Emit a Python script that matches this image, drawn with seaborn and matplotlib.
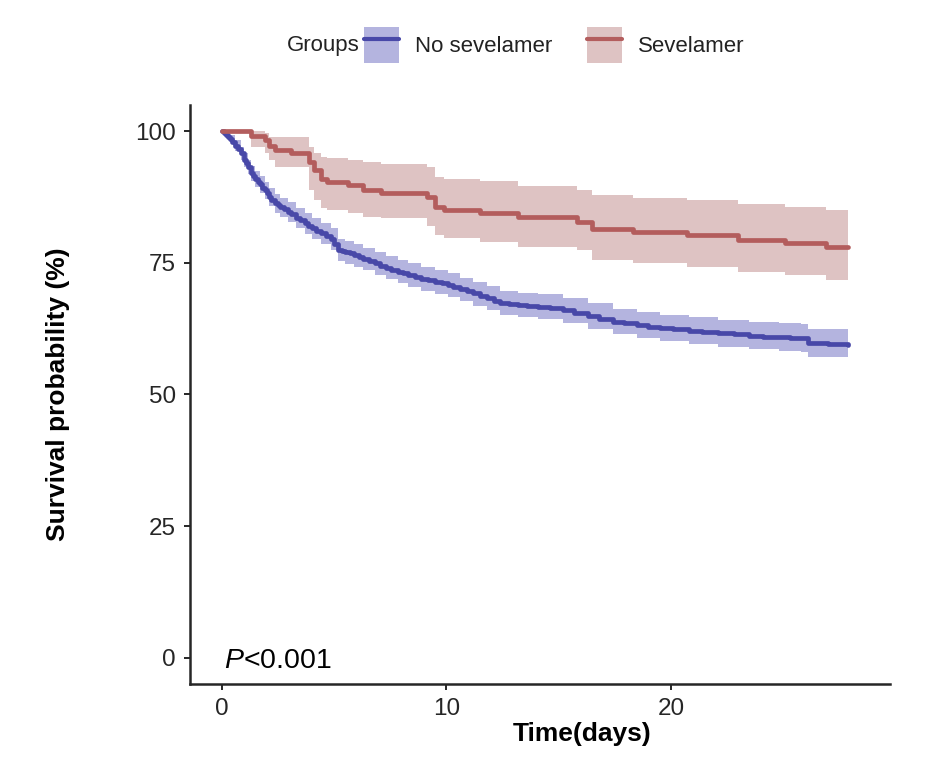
import matplotlib
matplotlib.use("Agg")
import matplotlib.pyplot as plt
import seaborn as sns
import pandas as pd
from matplotlib.patches import Patch
from matplotlib.lines import Line2D

# ---------------- data ----------------
groups = ["No sevelamer", "Sevelamer"]

# Kaplan-Meier step curve, No sevelamer
no_sev_time = [0, 0.1, 0.2, 0.28, 0.36, 0.47, 0.58, 0.72, 0.87, 1.0, 1.08, 1.17, 1.3, 1.38,
               1.47, 1.6, 1.7, 1.8, 1.91, 2.0, 2.1, 2.2, 2.36, 2.48, 2.6, 2.78, 2.95, 3.1,
               3.3, 3.5, 3.69, 3.85, 4.0, 4.2, 4.43, 4.65, 4.87, 5.0, 5.17, 5.35, 5.5, 5.7,
               5.9, 6.1, 6.3, 6.55, 6.8, 7.05, 7.3, 7.55, 7.84, 8.05, 8.3, 8.6, 8.87, 9.2,
               9.5, 9.8, 10.06, 10.3, 10.6, 10.9, 11.2, 11.5, 11.8, 12.1, 12.4, 12.8, 13.2,
               13.6, 14.1, 14.6, 15.2, 15.7, 16.3, 16.8, 17.4, 17.9, 18.5, 19.0, 19.5, 20.1,
               20.8, 21.4, 22.1, 22.8, 23.5, 24.1, 24.8, 25.3, 25.8, 26.1, 27.0, 27.9]
no_sev_surv = [100, 99.6, 99.3, 99.0, 98.6, 98.0, 97.3, 96.6, 95.8, 94.6, 93.9, 93.2, 92.0, 91.5,
               91.0, 90.4, 89.9, 89.3, 88.8, 88.2, 87.6, 87.0, 86.3, 86.0, 85.6, 85.2, 84.7, 84.2,
               83.6, 83.1, 82.5, 82.0, 81.6, 81.1, 80.6, 80.1, 79.6, 78.5, 77.4, 77.2, 77.0, 76.8,
               76.5, 76.2, 75.8, 75.4, 74.9, 74.5, 74.1, 73.7, 73.3, 73.0, 72.7, 72.4, 72.0, 71.7,
               71.4, 71.1, 70.8, 70.4, 70.0, 69.6, 69.2, 68.8, 68.3, 67.8, 67.4, 67.2, 67.0,
               66.9, 66.7, 66.4, 66.0, 65.5, 64.9, 64.4, 63.8, 63.5, 63.2, 62.9, 62.6, 62.4,
               62.1, 61.9, 61.6, 61.4, 61.2, 61.0, 60.9, 60.8, 60.7, 59.7, 59.5, 59.4]

# 95% confidence band, No sevelamer
no_sev_ci_time = [0, 0.2, 0.36, 0.58, 0.87, 1.0, 1.17, 1.3, 1.47, 1.7, 1.91, 2.1, 2.36, 2.6,
                  2.95, 3.3, 3.69, 4.0, 4.43, 4.87, 5.17, 5.5, 5.9, 6.3, 6.8, 7.3, 7.84, 8.3,
                  8.87, 9.5, 10.06, 10.6, 11.2, 11.8, 12.4, 13.2, 14.1, 15.2, 16.3, 17.4, 18.5,
                  19.5, 20.8, 22.1, 23.5, 24.8, 25.8, 26.1, 27.9]
no_sev_upper = [100, 99.8, 99.3, 98.3, 97.0, 95.9, 94.6, 93.5, 92.5, 91.5, 90.4, 89.3, 88.1, 87.4,
                86.5, 85.4, 84.4, 83.5, 82.6, 81.6, 79.5, 79.1, 78.6, 77.9, 77.0, 76.3, 75.5, 74.9,
                74.2, 73.6, 73.0, 72.2, 71.4, 70.6, 69.7, 69.3, 69.0, 68.4, 67.3, 66.3, 65.7,
                65.1, 64.7, 64.2, 63.8, 63.5, 63.4, 62.4, 62.2]
no_sev_lower = [100, 98.8, 97.9, 96.3, 94.6, 93.3, 91.8, 90.5, 89.4, 88.3, 87.1, 85.9, 84.5, 83.8,
                82.8, 81.7, 80.5, 79.6, 78.5, 77.5, 75.3, 74.8, 74.3, 73.6, 72.7, 71.9, 71.1, 70.5,
                69.7, 69.1, 68.5, 67.7, 66.9, 66.0, 65.1, 64.7, 64.4, 63.6, 62.5, 61.4, 60.8,
                60.2, 59.6, 59.1, 58.6, 58.3, 58.1, 57.1, 56.8]

# Kaplan-Meier step curve and band, Sevelamer
sev_time = [0, 1.3, 1.9, 2.1, 2.35, 3.1, 3.9, 4.1, 4.4, 4.7, 5.6, 6.3, 7.1, 9.15, 9.5, 9.9,
            11.5, 13.2, 15.8, 16.5, 18.3, 20.7, 23.0, 25.1, 26.9, 27.9]
sev_surv = [100, 99.2, 98.3, 97.3, 96.4, 95.8, 94.2, 92.6, 91.0, 90.4, 89.8, 88.9, 88.3, 87.5,
            85.6, 85.0, 84.5, 83.7, 82.8, 81.5, 80.9, 80.3, 79.3, 78.7, 78.1, 78.1]
sev_upper = [100, 100, 99.6, 98.9, 98.9, 98.9, 97.0, 95.8, 95.2, 95.0, 94.6, 94.2, 93.8, 93.2,
             91.4, 91.0, 90.5, 89.6, 88.9, 87.9, 87.4, 86.9, 86.2, 85.7, 85.0, 85.0]
sev_lower = [100, 97.0, 95.8, 94.5, 93.2, 93.2, 88.8, 87.0, 85.5, 85.0, 84.5, 83.8, 83.5, 82.0,
             80.3, 79.8, 79.0, 78.0, 77.4, 75.5, 74.9, 74.3, 73.3, 72.7, 71.7, 71.7]

y_ticks = [0, 25, 50, 75, 100]
x_ticks = [0, 10, 20]

# ---------------- styling ----------------
line_colors = {"No sevelamer": "#4848A8", "Sevelamer": "#B35D5D"}
fill_colors = {"No sevelamer": "#B4B4DF", "Sevelamer": "#DEC3C3"}

sns.set_theme(style="ticks")
plt.rcParams["font.family"] = ["Liberation Sans", "DejaVu Sans"]
plt.rcParams["mathtext.fontset"] = "custom"
plt.rcParams["mathtext.rm"] = "Liberation Sans"
plt.rcParams["mathtext.it"] = "Liberation Sans:italic"

df = pd.concat([
    pd.DataFrame({"time": no_sev_time, "surv": no_sev_surv, "group": groups[0]}),
    pd.DataFrame({"time": sev_time, "surv": sev_surv, "group": groups[1]}),
], ignore_index=True)

fig = plt.figure(figsize=(9.32, 7.71), dpi=100)
ax = fig.add_axes([190 / 932, 1 - 684 / 771, 700 / 932, 579 / 771])

ax.fill_between(no_sev_ci_time, no_sev_lower, no_sev_upper, step="post",
                color=fill_colors[groups[0]], linewidth=0, zorder=1)
ax.fill_between(sev_time, sev_lower, sev_upper, step="post",
                color=fill_colors[groups[1]], linewidth=0, zorder=1)

sns.lineplot(data=df, x="time", y="surv", hue="group", palette=line_colors,
             drawstyle="steps-post", linewidth=3.4, legend=False, ax=ax,
             estimator=None, sort=True, zorder=3)

ax.set_xlim(-1.42, 29.76)
ax.set_ylim(-5, 105)
ax.set_xticks(x_ticks)
ax.set_yticks(y_ticks)
ax.set_xticklabels([str(v) for v in x_ticks])
ax.set_yticklabels([str(v) for v in y_ticks])

for s in ["top", "right"]:
    ax.spines[s].set_visible(False)
for s in ["left", "bottom"]:
    ax.spines[s].set_linewidth(1.8)
    ax.spines[s].set_color("#262626")

ax.tick_params(axis="both", which="major", length=4, width=1.4, color="#262626",
               labelsize=17.5, labelcolor="#262626", pad=6, direction="out")

ax.set_xlabel("Time(days)", fontsize=19, fontweight="bold", color="black")
ax.set_ylabel("Survival probability (%)", fontsize=19, fontweight="bold", color="black")
ax.xaxis.set_label_coords((582 - 190) / 700, (684 - 722) / 579)
ax.yaxis.set_label_coords((70 - 190) / 700, 0.5)

ax.text(0.1, -1.9, r"$\mathit{P}$<0.001", fontsize=20.5, ha="left", va="baseline",
        color="black")

# legend
handles = [
    (Patch(facecolor=fill_colors[g], edgecolor="none"),
     Line2D([0], [0], color=line_colors[g], linewidth=3.0))
    for g in groups
]
leg = fig.legend(handles, groups, loc="center left",
                 bbox_to_anchor=(364 / 932, 1 - 45 / 771), bbox_transform=fig.transFigure,
                 ncol=2, frameon=False, fontsize=16, handlelength=1.58, handleheight=2.15,
                 handletextpad=0.72, columnspacing=1.55, borderpad=0, borderaxespad=0)
for t in leg.get_texts():
    t.set_color("#222222")
fig.text(360 / 932, 1 - 45 / 771, "Groups", fontsize=16, ha="right", va="center",
         color="#222222")

fig.savefig("out.png", dpi=100)
